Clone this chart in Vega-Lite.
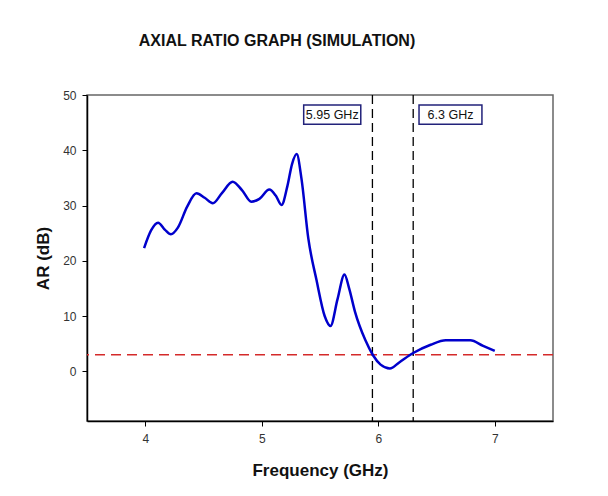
{
  "$schema": "https://vega.github.io/schema/vega-lite/v6.json",
  "width": 466,
  "height": 326,
  "padding": {"left": 34, "top": 33, "right": 10, "bottom": 10},
  "background": "white",
  "title": {
    "text": "AXIAL RATIO GRAPH (SIMULATION)",
    "font": "Liberation Sans",
    "fontSize": 16,
    "fontWeight": "bold",
    "color": "#111111",
    "anchor": "middle",
    "dx": -43,
    "offset": 40
  },
  "config": {
    "view": {"stroke": "#666666", "strokeWidth": 1.5},
    "axis": {
      "labelFont": "Liberation Sans",
      "labelFontSize": 12,
      "labelColor": "#333333",
      "titleFont": "Liberation Sans",
      "titleFontSize": 17,
      "titleFontWeight": "bold",
      "titleColor": "#111111",
      "domainColor": "#000000",
      "domainWidth": 1.5,
      "tickColor": "#000000",
      "tickSize": 5,
      "grid": false
    }
  },
  "datasets": {
    "curve": [
      {"f": 3.99, "ar": 22.3}, {"f": 4.05, "ar": 25.5}, {"f": 4.11, "ar": 26.9}, {"f": 4.17, "ar": 25.6},
      {"f": 4.22, "ar": 24.8}, {"f": 4.28, "ar": 26.0}, {"f": 4.36, "ar": 29.8}, {"f": 4.44, "ar": 32.2},
      {"f": 4.51, "ar": 31.4}, {"f": 4.58, "ar": 30.4}, {"f": 4.66, "ar": 32.3}, {"f": 4.75, "ar": 34.3},
      {"f": 4.83, "ar": 32.8}, {"f": 4.91, "ar": 30.7}, {"f": 4.98, "ar": 31.2}, {"f": 5.065, "ar": 32.9},
      {"f": 5.12, "ar": 31.8}, {"f": 5.17, "ar": 30.1}, {"f": 5.22, "ar": 33.5}, {"f": 5.26, "ar": 37.5},
      {"f": 5.3, "ar": 39.3}, {"f": 5.34, "ar": 35.0}, {"f": 5.4, "ar": 24.0}, {"f": 5.47, "ar": 16.5},
      {"f": 5.54, "ar": 10.0}, {"f": 5.59, "ar": 8.2}, {"f": 5.65, "ar": 13.0}, {"f": 5.71, "ar": 17.5},
      {"f": 5.75, "ar": 15.0}, {"f": 5.8, "ar": 10.8}, {"f": 5.89, "ar": 5.6}, {"f": 5.955, "ar": 2.9},
      {"f": 6.02, "ar": 1.2}, {"f": 6.1, "ar": 0.5}, {"f": 6.18, "ar": 1.6}, {"f": 6.3, "ar": 3.3},
      {"f": 6.45, "ar": 4.8}, {"f": 6.58, "ar": 5.6}, {"f": 6.79, "ar": 5.6}, {"f": 6.9, "ar": 4.6},
      {"f": 7.0, "ar": 3.7}
    ],
    "marks": [
      {"f": 5.95, "label": "5.95 GHz", "x0": 5.36, "x1": 5.85, "xc": 5.605, "y0": 44.7, "y1": 48.2, "yc": 46.45},
      {"f": 6.3, "label": "6.3 GHz", "x0": 6.35, "x1": 6.89, "xc": 6.62, "y0": 44.7, "y1": 48.2, "yc": 46.45}
    ],
    "limit": [{"ar": 3}]
  },
  "layer": [
    {
      "data": {"name": "limit"},
      "mark": {"type": "rule", "stroke": "#D42A2A", "color": "#D42A2A", "strokeWidth": 1.5, "strokeDash": [10, 6]},
      "encoding": {"y": {"field": "ar", "type": "quantitative"}}
    },
    {
      "data": {"name": "marks"},
      "mark": {"type": "rule", "color": "#000000", "strokeWidth": 1.3, "strokeDash": [9, 5]},
      "encoding": {"x": {"field": "f", "type": "quantitative"}}
    },
    {
      "data": {"name": "curve"},
      "mark": {"type": "line", "color": "#0000CC", "strokeWidth": 2.5, "interpolate": "monotone"},
      "encoding": {
        "x": {
          "field": "f", "type": "quantitative",
          "scale": {"domain": [3.5, 7.5], "nice": false, "zero": false},
          "axis": {"values": [4, 5, 6, 7], "format": "d", "title": "Frequency (GHz)", "labelPadding": 7, "titlePadding": 18}
        },
        "y": {
          "field": "ar", "type": "quantitative",
          "scale": {"domain": [-9, 50], "nice": false, "zero": false},
          "axis": {"values": [0, 10, 20, 30, 40, 50], "format": "d", "title": "AR (dB)", "labelPadding": 6, "titlePadding": 10}
        }
      }
    },
    {
      "data": {"name": "marks"},
      "mark": {"type": "rect", "fill": "white", "stroke": "#22227A", "strokeWidth": 1.5},
      "encoding": {
        "x": {"field": "x0", "type": "quantitative"},
        "x2": {"field": "x1"},
        "y": {"field": "y0", "type": "quantitative"},
        "y2": {"field": "y1"}
      }
    },
    {
      "data": {"name": "marks"},
      "mark": {"type": "text", "font": "Liberation Sans", "fontSize": 12.5, "color": "#111111", "align": "center", "baseline": "middle"},
      "encoding": {
        "x": {"field": "xc", "type": "quantitative"},
        "y": {"field": "yc", "type": "quantitative"},
        "text": {"field": "label"}
      }
    }
  ]
}
